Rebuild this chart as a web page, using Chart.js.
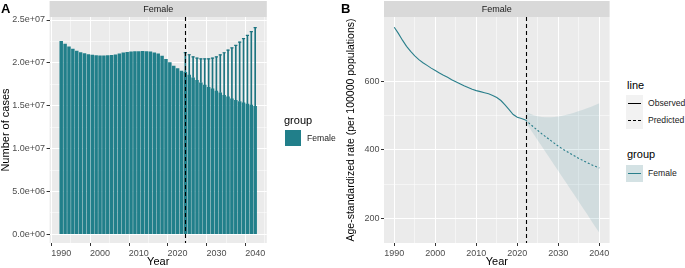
<!DOCTYPE html>
<html>
<head>
<meta charset="utf-8">
<script src="https://cdn.jsdelivr.net/npm/chart.js@4.4.1/dist/chart.umd.min.js"></script>
<style>
body{margin:0;background:#fff;width:685px;height:268px;position:relative;overflow:hidden;font-family:"Liberation Sans",Arial,sans-serif;}
canvas{position:absolute;top:0;}
.t{position:absolute;white-space:nowrap;line-height:1;color:#000;font-weight:normal;}
.tag{font-weight:bold;font-size:13px;}
.ttl{font-size:11px;color:#000;}
.lab{font-size:8.6px;color:#1A1A1A;}
.key{position:absolute;}
</style>
</head>
<body>
<canvas id="chartA" width="272" height="268" style="left:0"></canvas>
<canvas id="chartB" width="272" height="268" style="left:340px"></canvas>

<div class="t tag" style="left:1px;top:2px">A</div>
<div class="t tag" style="left:341px;top:2px">B</div>

<!-- legend A -->
<div class="t ttl" style="left:284px;top:115px">group</div>
<div class="key" style="left:285px;top:130px;width:16px;height:16px;background:#217f8a"></div>
<div class="t lab" style="left:307px;top:134px">Female</div>

<!-- legend B -->
<div class="t ttl" style="left:627px;top:80px">line</div>
<div class="key" style="left:626px;top:95px;width:17px;height:34px;background:#F2F2F2"></div>
<div class="key" style="left:628px;top:103px;width:13px;height:0;border-top:1px solid #000"></div>
<div class="key" style="left:628px;top:120px;width:13px;height:0;border-top:1px dashed #000"></div>
<div class="t lab" style="left:648px;top:99px">Observed</div>
<div class="t lab" style="left:648px;top:116px">Predicted</div>
<span class="t ttl" style="left:627px;top:149px;color:#000;font-weight:400">group</span>
<div class="key" style="left:626px;top:165px;width:17px;height:17px;background:#d4e2e4"></div>
<div class="key" style="left:628px;top:173px;width:13px;height:0;border-top:1px solid #2a7f8b"></div>
<div class="t lab" style="left:648px;top:169px">Female</div>

<script>
// ---- data ----
const years = [1990,1991,1992,1993,1994,1995,1996,1997,1998,1999,
  2000,2001,2002,2003,2004,2005,2006,2007,2008,2009,
  2010,2011,2012,2013,2014,2015,2016,2017,2018,2019,
  2020,2021,2022,2023,2024,2025,2026,2027,2028,2029,
  2030,2031,2032,2033,2034,2035,2036,2037,2038,2039,2040];
const cases = [2.254e7,2.223e7,2.192e7,2.164e7,2.141e7,2.125e7,2.113e7,2.102e7,2.094e7,2.088e7,
  2.086e7,2.086e7,2.088e7,2.092e7,2.098e7,2.110e7,2.122e7,2.128e7,2.133e7,2.135e7,
  2.137e7,2.138e7,2.137e7,2.132e7,2.122e7,2.108e7,2.082e7,2.045e7,2.007e7,1.968e7,
  1.937e7,1.909e7,1.895e7,1.862e7,1.831e7,1.800e7,1.772e7,1.745e7,1.720e7,1.700e7,
  1.674e7,1.655e7,1.627e7,1.607e7,1.584e7,1.568e7,1.553e7,1.537e7,1.525e7,1.513e7,1.498e7];
const predYears = [2022,2023,2024,2025,2026,2027,2028,2029,2030,2031,
  2032,2033,2034,2035,2036,2037,2038,2039,2040];
const casesUpper = [2.120e7,2.095e7,2.070e7,2.055e7,2.047e7,2.046e7,2.047e7,2.055e7,2.070e7,2.094e7,
  2.118e7,2.148e7,2.174e7,2.204e7,2.243e7,2.282e7,2.321e7,2.364e7,2.412e7];

const obsYears = years.slice(0, 33);
const observedRate = [760,742,722,704,689,676,665,656,648,640,
  633,626,619,613,606,600,594,588,583,578,
  574,571,568,565,560,554,545,532,518,504,496,492,488];
const predictedRate = [488,477,467,457,447,438,429,420,411,403,396,389,382,375,369,363,357,352,347];
const upperRate = [513,507,502,499,497,496,496,497,498,500,503,506,510,514,518,522,527,532,537];
const lowerRate = [483,464,446,428,410,392,374,356,338,320,302,284,266,248,230,212,193,175,157];

const predictionStart = 2022;
const yearTicks = [1990,2000,2010,2020,2030,2040];
const casesTicks = [0,5e6,1e7,1.5e7,2e7,2.5e7];
const casesTickLabels = ['0.0e+00','5.0e+06','1.0e+07','1.5e+07','2.0e+07','2.5e+07'];
const rateTicks = [200,400,600];

const TEAL = '#217f8a';
const LINE = '#2a7f8b';

Chart.defaults.font.family = '"Liberation Sans", Arial, sans-serif';
Chart.defaults.font.size = 9;
Chart.defaults.color = '#4D4D4D';
Chart.defaults.animation = false;

// majors + minors halfway between
const withMinors = (major) => {
  const out = [];
  major.forEach((v, i) => {
    out.push(v);
    if (i < major.length - 1) out.push((v + major[i + 1]) / 2);
  });
  return out;
};

const panelPlugin = {
  id: 'panel',
  beforeDraw(chart, args, opts) {
    const {ctx, chartArea: a} = chart;
    ctx.save();
    ctx.fillStyle = '#EBEBEB';
    ctx.fillRect(a.left, a.top, a.right - a.left, a.bottom - a.top);
    ctx.fillStyle = '#D9D9D9';
    ctx.fillRect(a.left, a.top - 16, a.right - a.left, 16);
    ctx.fillStyle = '#1A1A1A';
    ctx.font = '9px "Liberation Sans", Arial, sans-serif';
    ctx.textAlign = 'center';
    ctx.textBaseline = 'middle';
    ctx.fillText(opts.strip, (a.left + a.right) / 2, a.top - 7.5);
    ctx.restore();
  },
  afterDatasetsDraw(chart) {
    const {ctx, chartArea: a} = chart;
    const x = Math.round(chart.scales.x.getPixelForValue(predictionStart)) + 0.5;
    ctx.save();
    ctx.strokeStyle = '#000';
    ctx.lineWidth = 1.1;
    ctx.setLineDash([4, 3]);
    ctx.beginPath();
    ctx.moveTo(x, a.top);
    ctx.lineTo(x, a.bottom);
    ctx.stroke();
    ctx.restore();
  }
};

const gridOpts = (majors) => ({
  color: '#FFFFFF',
  lineWidth: c => (c.tick && majors.includes(c.tick.value)) ? 1 : 0.5,
  tickColor: c => (c.tick && majors.includes(c.tick.value)) ? '#333333' : 'rgba(0,0,0,0)',
  tickLength: 3,
  drawTicks: true
});

const xScale = (min, max) => ({
  type: 'linear',
  min, max,
  offset: false,
  border: {display: false},
  grid: gridOpts(yearTicks),
  afterBuildTicks: s => { s.ticks = withMinors(yearTicks).map(v => ({value: v})); },
  afterFit: s => { s.height = 25; },
  ticks: {
    autoSkip: false, maxRotation: 0, padding: 2, color: '#4D4D4D',
    callback: v => yearTicks.includes(v) ? String(v) : ''
  },
  title: {display: true, text: 'Year', color: '#000', font: {size: 11, lineHeight: 1}, padding: {top: 0, bottom: 0.5}}
});

// ---- panel A ----
new Chart(document.getElementById('chartA'), {
  type: 'bar',
  data: {
    datasets: [
      {
        type: 'bar',
        data: years.map((yr, i) => ({x: yr, y: cases[i]})),
        backgroundColor: TEAL,
        borderWidth: 0,
        grouped: false,
        barPercentage: 0.9,
        categoryPercentage: 1
      },
      {
        type: 'bar',
        data: predYears.map((yr, i) => ({x: yr, y: [cases[years.indexOf(yr)], casesUpper[i]]})),
        backgroundColor: '#1d7480',
        borderWidth: 0,
        grouped: false,
        barThickness: 1
      },
      {
        type: 'scatter',
        data: predYears.map((yr, i) => ({x: yr, y: casesUpper[i]})),
        pointStyle: 'line',
        radius: 1.6,
        borderColor: '#1d7480',
        borderWidth: 1.2,
        backgroundColor: '#1d7480'
      }
    ]
  },
  options: {
    responsive: false,
    layout: {padding: {top: 17, right: 3.6, left: 0, bottom: 0}},
    plugins: {legend: {display: false}, tooltip: {enabled: false}, panel: {strip: 'Female'}},
    scales: {
      x: xScale(1987.005, 2042.995),
      y: {
        min: -1.0e6, max: 2.535e7,
        border: {display: false},
        grid: gridOpts(casesTicks),
        afterBuildTicks: s => { s.ticks = withMinors(casesTicks).map(v => ({value: v})); },
        afterFit: s => { s.width = 49.6; },
        ticks: {
          autoSkip: false, padding: 1.5, color: '#4D4D4D',
          callback: v => { const k = casesTicks.indexOf(v); return k >= 0 ? casesTickLabels[k] : ''; }
        },
        title: {display: true, text: 'Number of cases', color: '#000', font: {size: 11, lineHeight: 1}, padding: {top: 0, bottom: 0}}
      }
    }
  },
  plugins: [panelPlugin]
});

// ---- panel B ----
new Chart(document.getElementById('chartB'), {
  type: 'line',
  data: {
    datasets: [
      {
        data: predYears.map((yr, i) => ({x: yr, y: upperRate[i]})),
        borderWidth: 0, pointRadius: 0,
        backgroundColor: 'rgba(42,127,139,0.13)',
        fill: '+1'
      },
      {
        data: predYears.map((yr, i) => ({x: yr, y: lowerRate[i]})),
        borderWidth: 0, pointRadius: 0, fill: false
      },
      {
        data: obsYears.map((yr, i) => ({x: yr, y: observedRate[i]})),
        borderColor: LINE, borderWidth: 1.1, pointRadius: 0, fill: false
      },
      {
        data: predYears.map((yr, i) => ({x: yr, y: predictedRate[i]})),
        borderColor: LINE, borderWidth: 1.1, borderDash: [2, 2], pointRadius: 0, fill: false
      }
    ]
  },
  options: {
    responsive: false,
    layout: {padding: {top: 17, right: 2.4, left: 0, bottom: 0}},
    plugins: {legend: {display: false}, tooltip: {enabled: false}, panel: {strip: 'Female'}},
    scales: {
      x: xScale(1987.5, 2042.5),
      y: {
        min: 127, max: 790,
        border: {display: false},
        grid: gridOpts(rateTicks),
        afterBuildTicks: s => { s.ticks = withMinors(rateTicks).map(v => ({value: v})); },
        afterFit: s => { s.width = 44; },
        ticks: {
          autoSkip: false, padding: 1.5, color: '#4D4D4D',
          callback: v => rateTicks.includes(v) ? String(v) : ''
        },
        title: {display: true, text: 'Age-standardized rate (per 100000 populations)', color: '#000', font: {size: 10.5, lineHeight: 1}, padding: {top: 6, bottom: 0}}
      }
    }
  },
  plugins: [panelPlugin]
});
</script>
</body>
</html>
